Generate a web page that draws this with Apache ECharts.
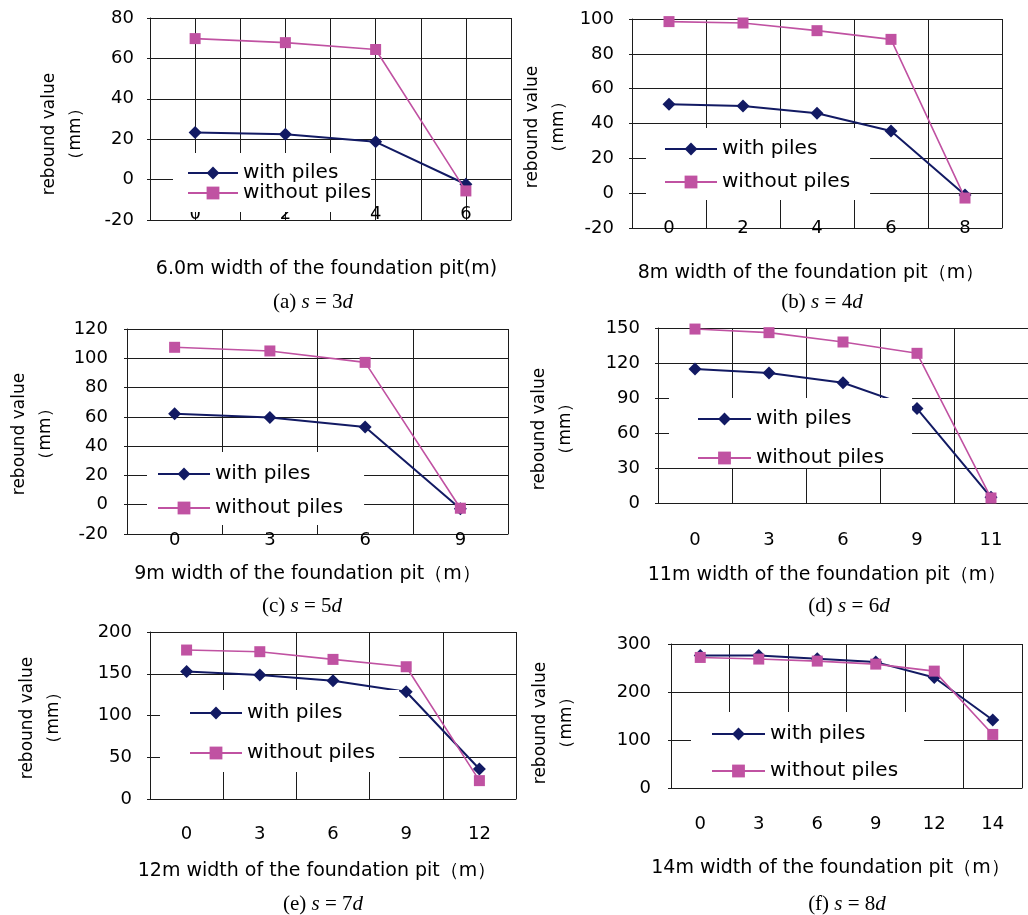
<!DOCTYPE html>
<html><head><meta charset="utf-8">
<script src="https://cdn.jsdelivr.net/npm/echarts@6/dist/echarts.min.js"></script>
<style>html,body{margin:0;padding:0;background:#fff}#c{width:1028px;height:915px}</style>
</head><body><div id="c"></div><script>
// ---------- data ----------
const seriesNames = ['with piles', 'without piles'];
const yAxisTitle = 'rebound value\n（mm）';

const xA = [0, 2, 4, 6];
const withA = [23.3, 22.4, 18.7, -2.3];
const withoutA = [69.8, 67.8, 64.4, -5.6];

const xB = ['0', '2', '4', '6', '8'];
const withB = [51, 50, 45.9, 35.7, -1];
const withoutB = [98.5, 97.7, 93.3, 88.3, -2.8];

const xC = ['0', '3', '6', '9'];
const withC = [62.1, 59.6, 53, -2.8];
const withoutC = [107.5, 105, 97.2, -2.4];

const xD = ['0', '3', '6', '9', '11'];
const withD = [114.9, 111.4, 103.1, 80.9, 4.9];
const withoutD = [149.1, 146, 138, 128.3, 4.3];

const xE = ['0', '3', '6', '9', '12'];
const withE = [152.8, 148.4, 141.6, 128.4, 36];
const withoutE = [178.4, 176.4, 167.2, 158.4, 22];

const xF = ['0', '3', '6', '9', '12', '14'];
const withF = [276.3, 276, 269.3, 262.3, 230.2, 141.6];
const withoutF = [272, 268.6, 264.4, 258.1, 243.5, 111.6];

const xTitles = [
  '6.0m width of the foundation pit(m)',
  '8m width of the foundation pit（m）',
  '9m width of the foundation pit（m）',
  '11m width of the foundation pit（m）',
  '12m width of the foundation pit（m）',
  '14m width of the foundation pit（m）'
];
const captionLetters = ['a', 'b', 'c', 'd', 'e', 'f'];
const captionS = ['3', '4', '5', '6', '7', '8'];
const yMins = [-20, -20, -20, 0, 0, 0];
const yMaxs = [80, 100, 120, 150, 200, 300];
const ySteps = [20, 20, 20, 30, 50, 100];
const xValMin = -1, xValMax = 7, xValStep = 1; // panel (a) x scale

// ---------- layout (positions / sizes) ----------
const layout = [
  {grid:{left:150,top:18,width:361,height:202}, yLM:16, xLM:-15, nameGap:40, padR:8,
   lg:{left:173,top:153,pad:[10,0,9,14],gap:0,iw:50}, yName:[63,134], cap:[313,302]},
  {grid:{left:632,top:19,width:370,height:209}, yLM:18, xLM:-9, nameGap:36, padR:12,
   lg:{left:646,top:128,pad:[11,20,8,18],gap:13,iw:52}, yName:[546,127], cap:[822,302]},
  {grid:{left:127,top:329,width:381,height:205}, yLM:19, xLM:-3, nameGap:31, padR:20,
   lg:{left:147,top:452,pad:[12,21,7,10],gap:14,iw:52}, yName:[33,434], cap:[302,606]},
  {grid:{left:658,top:328,width:375,height:175}, yLM:18, xLM:28, nameGap:63, padR:32,
   lg:{left:669,top:398,pad:[11,28,0,28],gap:19,iw:53}, yName:[553,429], cap:[849,606]},
  {grid:{left:150,top:632,width:366,height:167}, yLM:18, xLM:26, nameGap:63, padR:32,
   lg:{left:160,top:690,pad:[13,24,9,29],gap:20,iw:52}, yName:[41,718], cap:[323,904]},
  {grid:{left:671,top:644,width:351,height:144}, yLM:20, xLM:27, nameGap:71, padR:32,
   lg:{left:691,top:712,pad:[12,26,7,20],gap:17,iw:53}, yName:[554,723], cap:[847,904]}
];

const panels = [
  {cats: null, w: xA.map((x, i) => [x, withA[i]]), wo: xA.map((x, i) => [x, withoutA[i]])},
  {cats: xB, w: withB, wo: withoutB},
  {cats: xC, w: withC, wo: withoutC},
  {cats: xD, w: withD, wo: withoutD},
  {cats: xE, w: withE, wo: withoutE},
  {cats: xF, w: withF, wo: withoutF}
];

const FONT = '"DejaVu Sans", sans-serif';
const GRID_C = '#1c1c1c';
const NAVY = '#121a63';
const MAG = '#c052a2';

const grids = [], xAxes = [], yAxes = [], series = [], legends = [], graphics = [];

panels.forEach((p, i) => {
  const L = layout[i];
  grids.push(Object.assign({containLabel: false}, L.grid));
  const common = {
    gridIndex: i,
    name: xTitles[i],
    nameLocation: 'middle',
    nameGap: L.nameGap,
    nameTextStyle: {fontFamily: FONT, fontSize: 19, color: '#000', padding: [0, L.padR, 0, 0]},
    axisLine: {show: true, onZero: false, lineStyle: {color: GRID_C, width: 1}},
    axisTick: {show: false},
    splitLine: {show: true, lineStyle: {color: GRID_C, width: 1}},
    axisLabel: {fontFamily: FONT, fontSize: 18, color: '#000', margin: L.xLM}
  };
  if (p.cats === null) {
    xAxes.push(Object.assign(common, {
      type: 'value', min: xValMin, max: xValMax, interval: xValStep,
      axisLabel: Object.assign(common.axisLabel, {
        formatter: v => (v >= 0 && v % 2 === 0) ? String(v) : ''
      })
    }));
  } else {
    xAxes.push(Object.assign(common, {
      type: 'category', data: p.cats, boundaryGap: true,
      splitLine: {show: true, interval: 0, lineStyle: {color: GRID_C, width: 1}}
    }));
  }
  yAxes.push({
    gridIndex: i, type: 'value', min: yMins[i], max: yMaxs[i], interval: ySteps[i],
    axisLine: {show: true, onZero: false, lineStyle: {color: GRID_C, width: 1}},
    axisTick: {show: true, length: 3, lineStyle: {color: GRID_C}},
    splitLine: {show: true, lineStyle: {color: GRID_C, width: 1}},
    axisLabel: {fontFamily: FONT, fontSize: 18, color: '#000', margin: L.yLM}
  });
  series.push({
    name: seriesNames[0], type: 'line', xAxisIndex: i, yAxisIndex: i, data: p.w,
    symbol: 'diamond', symbolSize: 13, color: NAVY,
    lineStyle: {color: NAVY, width: 2}, itemStyle: {color: NAVY}, z: 3, animation: false
  });
  series.push({
    name: seriesNames[1], type: 'line', xAxisIndex: i, yAxisIndex: i, data: p.wo,
    symbol: 'rect', symbolSize: 11, color: MAG,
    lineStyle: {color: MAG, width: 1.6}, itemStyle: {color: MAG}, z: 4, animation: false
  });
  legends.push({
    orient: 'vertical', left: L.lg.left, top: L.lg.top, padding: L.lg.pad,
    itemGap: L.lg.gap, itemWidth: L.lg.iw, itemHeight: 16,
    backgroundColor: '#fff', selectedMode: false,
    textStyle: {fontFamily: FONT, fontSize: 20, color: '#000'},
    data: seriesNames
  });
  graphics.push({
    type: 'text', x: L.yName[0], y: L.yName[1], rotation: Math.PI / 2,
    style: {text: yAxisTitle, align: 'center', verticalAlign: 'middle',
            fontFamily: FONT, fontSize: 17, lineHeight: 26, fill: '#000'}
  });
  graphics.push({
    type: 'text', x: L.cap[0], y: L.cap[1],
    style: {text: '(' + captionLetters[i] + ') {i|s} = ' + captionS[i] + '{i|d}',
            align: 'center', verticalAlign: 'middle',
            fontFamily: '"Liberation Serif", serif', fontSize: 21, fill: '#000',
            rich: {i: {fontStyle: 'italic', fontFamily: '"Liberation Serif", serif', fontSize: 21, fill: '#000'}}}
  });
});

const chart = echarts.init(document.getElementById('c'), null, {renderer: 'canvas'});
chart.setOption({
  animation: false,
  backgroundColor: '#fff',
  grid: grids, xAxis: xAxes, yAxis: yAxes, series: series, legend: legends, graphic: graphics
});
</script></body></html>
